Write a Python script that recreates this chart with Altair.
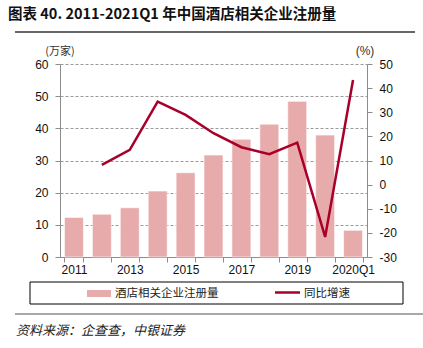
import altair as alt
import pandas as pd

# ---- data ----
years = ["2011", "2012", "2013", "2014", "2015", "2016", "2017", "2018", "2019", "2020", "2020Q1"]
counts = [12.3, 13.3, 15.3, 20.5, 26.2, 31.7, 36.6, 41.3, 48.4, 37.9, 8.3]
growth = [None, 8.2, 14.4, 34.4, 28.9, 21.3, 15.5, 12.6, 17.4, -21.7, 43.4]
shown_labels = ["2011", "2013", "2015", "2017", "2019", "2020Q1"]
left_ticks = [0, 10, 20, 30, 40, 50, 60]
right_ticks = [-30, -20, -10, 0, 10, 20, 30, 40, 50]

title_text = "图表 40. 2011-2021Q1 年中国酒店相关企业注册量"
left_unit = "(万家)"
right_unit = "(%)"
bar_legend = "酒店相关企业注册量"
line_legend = "同比增速"
source_text = "资料来源：企查查，中银证券"

BAR_COLOR = "#E8ABAB"
LINE_COLOR = "#A8002A"
AX_COLOR = "#8C8C8C"
LATIN = "Liberation Sans"
CJK = "Noto Sans CJK SC"

W, H = 307, 193

df = pd.DataFrame({"year": years, "count": counts, "growth": growth})

label_list = "[" + ",".join("'" + s + "'" for s in shown_labels) + "]"

x_enc = alt.X(
    "year:N",
    sort=years,
    scale=alt.Scale(paddingInner=0.32, paddingOuter=0.16),
    axis=alt.Axis(
        title=None, labelAngle=0, tickBand="extent",
        labelExpr=f"indexof({label_list}, datum.label) >= 0 ? datum.label : ''",
        domainColor=AX_COLOR, tickColor=AX_COLOR, tickSize=5,
        labelFontSize=12, labelPadding=2, labelColor="#111", labelFont=LATIN,
    ),
)

bars = alt.Chart(df).mark_bar(color=BAR_COLOR, stroke="white", strokeWidth=0.6).encode(
    x=x_enc,
    y=alt.Y(
        "count:Q",
        scale=alt.Scale(domain=[0, 60], nice=False),
        axis=alt.Axis(
            values=left_ticks, title=None, grid=True, gridDash=[3, 2], gridColor="#9A9A9A",
            domainColor=AX_COLOR, tickColor=AX_COLOR, tickSize=5,
            labelFontSize=12, labelPadding=7, labelColor="#111", labelFont=LATIN,
        ),
    ),
)

line = alt.Chart(df).transform_filter("isValid(datum.growth)").mark_line(
    color=LINE_COLOR, strokeWidth=2.5
).encode(
    x=alt.X("year:N", sort=years),
    y=alt.Y(
        "growth:Q",
        scale=alt.Scale(domain=[-30, 50], nice=False),
        axis=alt.Axis(
            orient="right", values=right_ticks, title=None, grid=False,
            labelExpr="replace(datum.label, '\u2212', '-')",
            domainColor=AX_COLOR, tickColor=AX_COLOR, tickSize=5,
            labelFontSize=12, labelPadding=7, labelColor="#111", labelFont=LATIN,
        ),
    ),
)

one = alt.Data(values=[{}])


def txt(text, x, y, align="left", **kw):
    return alt.Chart(one).mark_text(text=text, align=align, baseline="middle", **kw).encode(
        x=alt.value(x), y=alt.value(y)
    )


def hrule(x1, x2, y, color, width):
    return alt.Chart(one).mark_rule(color=color, strokeWidth=width).encode(
        x=alt.value(x1), x2=alt.value(x2), y=alt.value(y)
    )


decor = [
    txt(title_text, -52, -49, font=CJK, fontSize=14.5, fontWeight="bold", color="#111"),
    hrule(-45, 355, -32, "#333333", 1.5),
    txt(left_unit, 0, -12, align="center", font=CJK, fontSize=11, color="#333"),
    txt(right_unit, 305, -13, align="center", font=LATIN, fontSize=12, color="#333"),
    alt.Chart(one).mark_rect(fill="white", fillOpacity=0, stroke="black", strokeWidth=1).encode(
        x=alt.value(-30), x2=alt.value(343), y=alt.value(218), y2=alt.value(240)
    ),
    alt.Chart(one).mark_rect(fill=BAR_COLOR).encode(
        x=alt.value(27), x2=alt.value(51), y=alt.value(226), y2=alt.value(233)
    ),
    txt(bar_legend, 55, 229.5, font=CJK, fontSize=11.5, color="#222"),
    hrule(215, 240, 228.5, LINE_COLOR, 2.5),
    txt(line_legend, 244, 229.5, font=CJK, fontSize=11.5, color="#222"),
    hrule(-45, 363, 250, "#8C8C8C", 1.5),
    txt(source_text, -44, 267, font=CJK, fontSize=13, fontStyle="italic", color="#222"),
]

chart = (
    alt.layer(bars, line, *decor)
    .resolve_scale(y="independent")
    .properties(
        width=W, height=H,
        autosize=alt.AutoSizeParams(type="none"),
        padding={"left": 60, "top": 64, "right": 56, "bottom": 91},
    )
    .configure_view(stroke=None)
)

chart.save("out.html", embed_options={"renderer": "svg", "actions": False})
